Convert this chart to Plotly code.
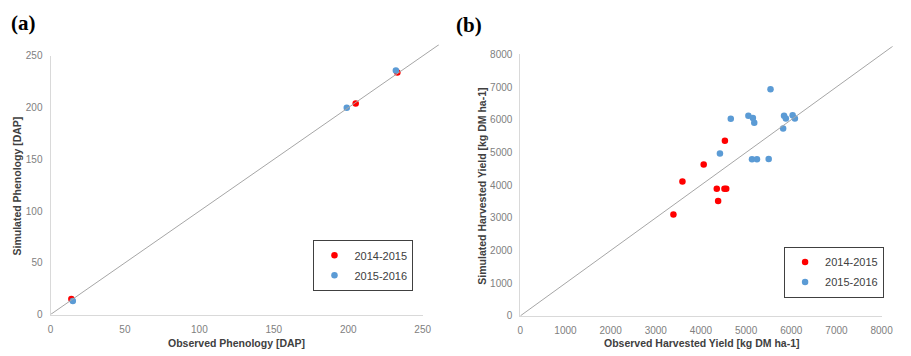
import plotly.graph_objects as go

W, H = 911, 356

# ---- data (a) phenology [DAP]
a_obs_1415 = [14, 205, 233]
a_sim_1415 = [15, 204, 234]
a_obs_1516 = [15, 199, 232]
a_sim_1516 = [13, 200, 236]
a_ticks = [0, 50, 100, 150, 200, 250]
a_line = [0, 261]

# ---- data (b) harvested yield [kg DM ha-1]
b_obs_1415 = [3390, 3590, 4060, 4350, 4380, 4520, 4560, 4530]
b_sim_1415 = [3100, 4110, 4630, 3890, 3510, 3890, 3890, 5360]
b_obs_1516 = [4420, 4660, 5050, 5150, 5180, 5130, 5240, 5500, 5540, 5820, 5840, 5880, 6030, 6080]
b_sim_1516 = [4970, 6030, 6120, 6050, 5910, 4790, 4790, 4800, 6930, 5730, 6120, 6040, 6140, 6040]
b_ticks = [0, 1000, 2000, 3000, 4000, 5000, 6000, 7000, 8000]
b_line = [0, 8250]

series = ["2014-2015", "2015-2016"]
colors = ["#ff0000", "#5b9bd5"]

# ---- layout geometry (pixels)
def px_x(p):
    return p / W

def px_y(p):
    return (H - p) / H

a_dom_x = [px_x(48.3), px_x(426.7)]
a_dom_y = [px_y(319.3), px_y(51.7)]
b_dom_x = [px_x(526.0), px_x(893.3)]
b_dom_y = [px_y(320.7), px_y(50.0)]

def ext(dom, full, new):
    return [dom[0], dom[0] + (dom[1] - dom[0]) * new / full]

fig = go.Figure()

# 1:1 lines on overlay axes (extend past axis end)
fig.add_trace(go.Scatter(x=a_line, y=a_line, mode="lines", xaxis="x3", yaxis="y3",
                         line=dict(color="#a6a6a6", width=1), showlegend=False, hoverinfo="skip"))
fig.add_trace(go.Scatter(x=b_line, y=b_line, mode="lines", xaxis="x4", yaxis="y4",
                         line=dict(color="#a6a6a6", width=1), showlegend=False, hoverinfo="skip"))

msize = 6.5
fig.add_trace(go.Scatter(x=a_obs_1415, y=a_sim_1415, mode="markers", name=series[0],
                         marker=dict(color=colors[0], size=msize), xaxis="x", yaxis="y",
                         legend="legend", legendgroup="a1"))
fig.add_trace(go.Scatter(x=a_obs_1516, y=a_sim_1516, mode="markers", name=series[1],
                         marker=dict(color=colors[1], size=msize), xaxis="x", yaxis="y",
                         legend="legend", legendgroup="a2"))
fig.add_trace(go.Scatter(x=b_obs_1415, y=b_sim_1415, mode="markers", name=series[0],
                         marker=dict(color=colors[0], size=msize), xaxis="x2", yaxis="y2",
                         legend="legend2", legendgroup="b1"))
fig.add_trace(go.Scatter(x=b_obs_1516, y=b_sim_1516, mode="markers", name=series[1],
                         marker=dict(color=colors[1], size=msize), xaxis="x2", yaxis="y2",
                         legend="legend2", legendgroup="b2"))

tickfont = dict(family="Liberation Sans, Arial", size=10, color="#808080")
axcommon = dict(showgrid=False, zeroline=False, showline=True, linecolor="#d9d9d9",
                linewidth=1, ticks="", tickfont=tickfont, fixedrange=True)
xax = dict(ticklabelstandoff=5, **axcommon)
yax = dict(ticklabelstandoff=5, **axcommon)
hidden = dict(visible=False, showgrid=False, zeroline=False, fixedrange=True)

legcommon = dict(font=dict(family="Liberation Sans, Arial", size=11, color="#404040"),
                 bordercolor="#404040", borderwidth=1, bgcolor="white",
                 tracegroupgap=1, xanchor="center", yanchor="top")

titlefont = dict(family="Liberation Sans, Arial", size=10.5, color="#404040")

fig.update_layout(
    width=W, height=H, margin=dict(l=0, r=0, t=0, b=0),
    paper_bgcolor="white", plot_bgcolor="rgba(0,0,0,0)",
    xaxis=dict(domain=a_dom_x, range=[0, 250], tickvals=a_ticks, anchor="y", **xax),
    yaxis=dict(domain=a_dom_y, range=[0, 250], tickvals=a_ticks, anchor="x", **yax),
    xaxis2=dict(domain=b_dom_x, range=[0, 8000], tickvals=b_ticks, anchor="y2", **xax),
    yaxis2=dict(domain=b_dom_y, range=[0, 8000], tickvals=b_ticks, anchor="x2", **yax),
    xaxis3=dict(domain=ext(a_dom_x, 250, a_line[1]), range=a_line, anchor="y3", **hidden),
    yaxis3=dict(domain=ext(a_dom_y, 250, a_line[1]), range=a_line, anchor="x3", **hidden),
    xaxis4=dict(domain=ext(b_dom_x, 8000, b_line[1]), range=b_line, anchor="y4", **hidden),
    yaxis4=dict(domain=ext(b_dom_y, 8000, b_line[1]), range=b_line, anchor="x4", **hidden),
    legend=dict(x=px_x(366.5), y=px_y(242), **legcommon),
    legend2=dict(x=px_x(845), y=px_y(249), **legcommon),
    showlegend=True,
)

ann = [
    dict(text="<b>(a)</b>", x=px_x(6), y=px_y(18), xanchor="left", yanchor="middle",
         font=dict(family="Liberation Serif, Times New Roman", size=21, color="black")),
    dict(text="<b>(b)</b>", x=px_x(459), y=px_y(20), xanchor="left", yanchor="middle",
         font=dict(family="Liberation Serif, Times New Roman", size=21, color="black")),
    dict(text="<b>Observed Phenology [DAP]</b>", x=px_x(237), y=px_y(348.5),
         xanchor="center", yanchor="middle", font=titlefont),
    dict(text="<b>Simulated Phenology [DAP]</b>", x=px_x(14), y=px_y(186), textangle=-90,
         xanchor="center", yanchor="middle", font=titlefont),
    dict(text="<b>Observed Harvested Yield [kg DM ha-1]</b>", x=px_x(710), y=px_y(349),
         xanchor="center", yanchor="middle", font=titlefont),
    dict(text="<b>Simulated Harvested Yield [kg DM ha-1]</b>", x=px_x(487), y=px_y(186),
         textangle=-90, xanchor="center", yanchor="middle", font=titlefont),
]
for a in ann:
    a.update(xref="paper", yref="paper", showarrow=False)
fig.update_layout(annotations=ann)

fig.write_html("out.html")
